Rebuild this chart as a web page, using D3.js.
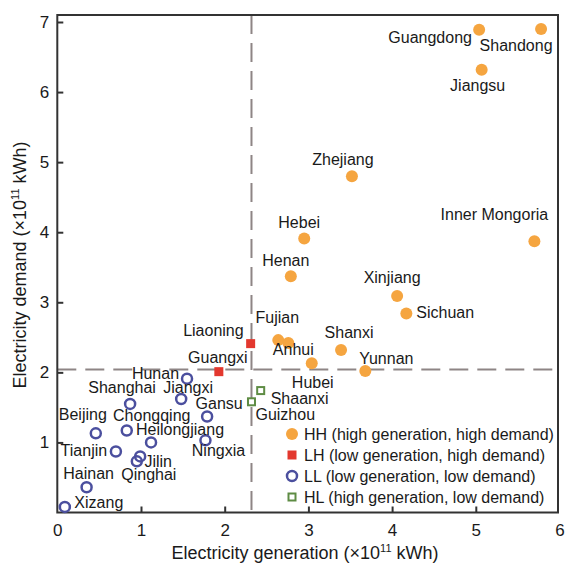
<!DOCTYPE html>
<html>
<head>
<meta charset="utf-8">
<script src="https://cdn.jsdelivr.net/npm/d3@7"></script>
<style>
body { margin: 0; background: #fff; }
text { font-family: "Liberation Sans", Arial, sans-serif; fill: #1a1a1a; }
</style>
</head>
<body>
<svg></svg>
<script>
/* Provinces: generation vs demand (x10^11 kWh) */

var names = ['Guangdong', 'Shandong', 'Jiangsu', 'Zhejiang', 'Hebei', 'Henan', 'Xinjiang', 'Sichuan',
	'Inner Mongoria', 'Fujian', 'Anhui', 'Hubei', 'Shanxi', 'Yunnan',
	'Liaoning', 'Guangxi',
	'Shaanxi', 'Guizhou',
	'Hunan', 'Jiangxi', 'Shanghai', 'Gansu', 'Beijing', 'Chongqing', 'Heilongjiang', 'Ningxia',
	'Tianjin', 'Jilin', 'Qinghai', 'Hainan', 'Xizang'];
var generation = [5.04, 5.78, 5.07, 3.52, 2.95, 2.79, 4.06, 4.17,
	5.70, 2.64, 2.76, 3.04, 3.39, 3.68,
	2.31, 1.93,
	2.43, 2.32,
	1.55, 1.48, 0.87, 1.79, 0.46, 0.83, 1.12, 1.77,
	0.70, 0.99, 0.95, 0.35, 0.09];
var demand = [6.89, 6.90, 6.32, 4.80, 3.91, 3.37, 3.09, 2.84,
	3.87, 2.46, 2.42, 2.13, 2.32, 2.02,
	2.41, 2.01,
	1.74, 1.58,
	1.91, 1.62, 1.55, 1.37, 1.13, 1.17, 1.00, 1.03,
	0.87, 0.80, 0.73, 0.36, 0.08];
var group = ['HH', 'HH', 'HH', 'HH', 'HH', 'HH', 'HH', 'HH',
	'HH', 'HH', 'HH', 'HH', 'HH', 'HH',
	'LH', 'LH',
	'HL', 'HL',
	'LL', 'LL', 'LL', 'LL', 'LL', 'LL', 'LL', 'LL',
	'LL', 'LL', 'LL', 'LL', 'LL'];
var groups = ['HH', 'LH', 'LL', 'HL'];
var groupLabels = ['HH (high generation, high demand)', 'LH (low generation, high demand)',
	'LL (low generation, low demand)', 'HL (high generation, low demand)'];
var xTicks = [0, 1, 2, 3, 4, 5, 6];
var yTicks = [1, 2, 3, 4, 5, 6, 7];
var thresholdX = 2.32, thresholdY = 2.04;

// label placement, pixel offset from the point: [dx, dy, anchor]
var labelPos = {
	'Guangdong': [-49, 13, 'middle'], 'Shandong': [-25, 22, 'middle'], 'Jiangsu': [-4, 21, 'middle'],
	'Zhejiang': [-9, -11, 'middle'], 'Hebei': [-5, -11, 'middle'], 'Henan': [-5, -10, 'middle'],
	'Xinjiang': [-5, -13, 'middle'], 'Sichuan': [10, 5, 'start'], 'Inner Mongoria': [-40, -21, 'middle'],
	'Fujian': [-1, -17, 'middle'], 'Anhui': [5, 12, 'middle'], 'Hubei': [1, 25, 'middle'],
	'Shanxi': [8, -12, 'middle'], 'Yunnan': [21, -7, 'middle'],
	'Liaoning': [-7, -8, 'end'], 'Guangxi': [-1, -9, 'middle'],
	'Shaanxi': [10, 13, 'start'], 'Guizhou': [4, 18, 'start'],
	'Hunan': [-8, 0, 'end'], 'Jiangxi': [7, -6, 'middle'], 'Shanghai': [-8, -11, 'middle'],
	'Gansu': [12, -8, 'middle'], 'Beijing': [-13, -13, 'middle'], 'Chongqing': [25, -10, 'middle'],
	'Heilongjiang': [29, -7, 'middle'], 'Ningxia': [13, 16, 'middle'], 'Tianjin': [-32, 4, 'middle'],
	'Jilin': [18, 11, 'middle'], 'Qinghai': [12, 19, 'middle'], 'Hainan': [2, -8, 'middle'],
	'Xizang': [34, 1, 'middle']
};

var colors = { HH: '#f5a540', LH: '#e3382e', LL: '#4b4f9e', HL: '#5e8c44' };

var svg = d3.select('svg').attr('width', 565).attr('height', 563);

var x = d3.scaleLinear().domain([0, 6]).range([57.3, 559.5]);
var y = d3.scaleLinear().domain([0, 7]).range([512.5, 22]);
var plotTop = 15, plotRight = 558;

var g = svg.append('g');

// threshold dashed lines
g.append('line')
	.attr('x1', x(thresholdX)).attr('x2', x(thresholdX))
	.attr('y1', plotTop).attr('y2', y(0))
	.attr('stroke', '#8e8585').attr('stroke-width', 2).attr('stroke-dasharray', '19,9');
g.append('line')
	.attr('x1', x(0)).attr('x2', plotRight)
	.attr('y1', y(thresholdY)).attr('y2', y(thresholdY))
	.attr('stroke', '#8e8585').attr('stroke-width', 2).attr('stroke-dasharray', '19,9');

// axes with inward ticks
var xAxis = d3.axisBottom(x).tickValues(xTicks).tickFormat(d3.format('d'))
	.tickSizeInner(-6).tickSizeOuter(0).tickPadding(11);
var yAxis = d3.axisLeft(y).tickValues(yTicks).tickFormat(d3.format('d'))
	.tickSizeInner(-6).tickSizeOuter(0).tickPadding(8);

var gx = g.append('g').attr('transform', 'translate(0,' + y(0) + ')').call(xAxis);
var gy = g.append('g').attr('transform', 'translate(' + x(0) + ',0)').call(yAxis);
[gx, gy].forEach(function(a) {
	a.select('.domain').remove();
	a.selectAll('line').attr('stroke', '#333').attr('stroke-width', 2);
	a.selectAll('text').style('font-size', '17px').attr('fill', '#1a1a1a');
});
gx.selectAll('.tick').filter(function(d) { return d === 0 || d === 6; }).select('line').remove();

g.append('rect')
	.attr('x', x(0)).attr('y', plotTop)
	.attr('width', plotRight - x(0)).attr('height', y(0) - plotTop)
	.attr('fill', 'none').attr('stroke', '#333').attr('stroke-width', 2);

// axis titles
svg.append('text')
	.attr('x', 305).attr('y', 559)
	.attr('text-anchor', 'middle').style('font-size', '18px')
	.html('Electricity generation (×10<tspan dy="-7" font-size="11">11</tspan><tspan dy="7"> kWh)</tspan>');
svg.append('text')
	.attr('transform', 'translate(26,265) rotate(-90)')
	.attr('text-anchor', 'middle').style('font-size', '18px')
	.html('Electricity demand  (×10<tspan dy="-7" font-size="11">11</tspan><tspan dy="7"> kWh)</tspan>');

var data = names.map(function(n, i) {
	return { name: n, gen: generation[i], dem: demand[i], group: group[i] };
});

var drawMarker = function(sel, grp) {
	var c = colors[grp];
	if (grp === 'HH') sel.append('circle').attr('r', 6).attr('fill', c);
	else if (grp === 'LL') sel.append('circle').attr('r', 5).attr('fill', 'none').attr('stroke', c).attr('stroke-width', 2.5);
	else if (grp === 'LH') sel.append('rect').attr('x', -4.5).attr('y', -4.5).attr('width', 9).attr('height', 9).attr('fill', c);
	else sel.append('rect').attr('x', -3.5).attr('y', -3.5).attr('width', 7).attr('height', 7).attr('fill', 'none').attr('stroke', c).attr('stroke-width', 2);
};

var pts = g.append('g').selectAll('g')
	.data(data)
	.enter().append('g')
	.attr('transform', function(d) { return 'translate(' + x(d.gen) + ',' + y(d.dem) + ')'; });
pts.each(function(d) { drawMarker(d3.select(this), d.group); });

g.append('g').selectAll('text')
	.data(data)
	.enter().append('text')
	.attr('x', function(d) { return x(d.gen) + labelPos[d.name][0]; })
	.attr('y', function(d) { return y(d.dem) + labelPos[d.name][1]; })
	.attr('text-anchor', function(d) { return labelPos[d.name][2]; })
	.style('font-size', '16px')
	.text(function(d) { return d.name; });

// legend
var legend = g.append('g').attr('transform', 'translate(292,434)');
groups.forEach(function(grp, i) {
	var row = legend.append('g').attr('transform', 'translate(0,' + (i * 21) + ')');
	drawMarker(row, grp);
	row.append('text')
		.attr('x', 12).attr('y', 5.5)
		.style('font-size', '16px')
		.text(groupLabels[i]);
});
</script>
</body>
</html>
